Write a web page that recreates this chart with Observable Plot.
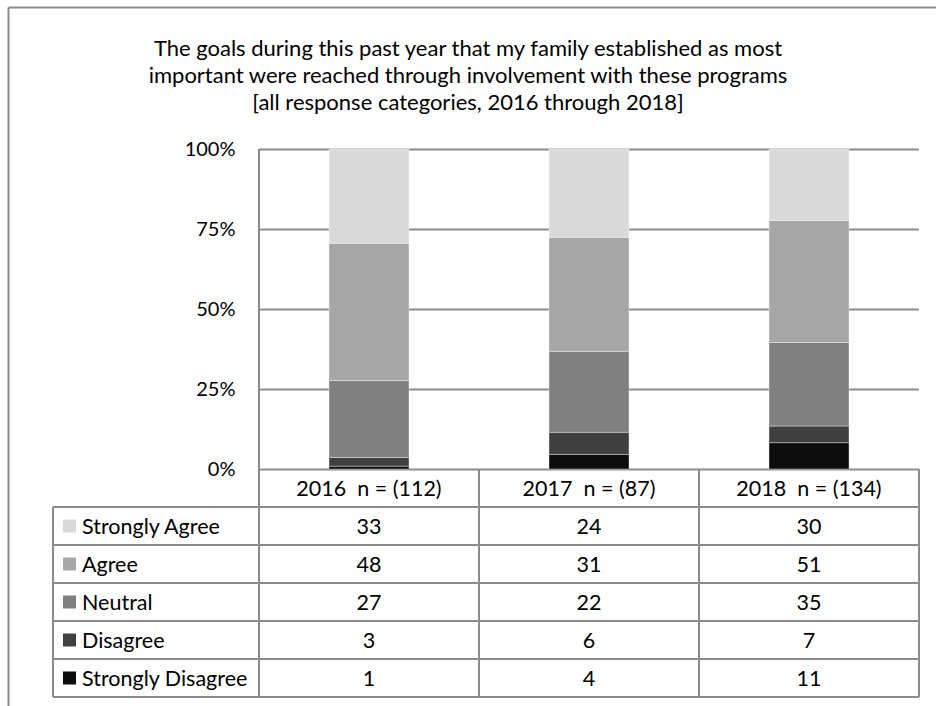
<!DOCTYPE html>
<html><head><meta charset="utf-8">
<script src="https://cdn.jsdelivr.net/npm/d3@7"></script>
<script src="https://cdn.jsdelivr.net/npm/@observablehq/plot@0.6"></script>
<style>
body{margin:0;background:#fff;}
#root{position:relative;width:936px;height:706px;overflow:hidden;background:#fff;font-family:Lato, sans-serif;}
#root svg{position:absolute;left:0;top:0;}
</style></head><body><div id="root"></div>
<script>
const titleLines = [
  "The goals during this past year that my family established as most",
  "important were reached through involvement with these programs",
  "[all response categories, 2016 through 2018]"
];
const years = ["2016", "2017", "2018"];
const columnLabels = ["2016  n = (112)", "2017  n = (87)", "2018  n = (134)"];
const categories = ["Strongly Agree", "Agree", "Neutral", "Disagree", "Strongly Disagree"];
const colors = ["#d9d9d9", "#a6a6a6", "#808080", "#404040", "#0d0d0d"];
const stronglyAgree = [33, 24, 30];
const agree = [48, 31, 51];
const neutral = [27, 22, 35];
const disagree = [3, 6, 7];
const stronglyDisagree = [1, 4, 11];
const yTicks = [0, 0.25, 0.5, 0.75, 1];

const seriesByCat = {
  "Strongly Agree": stronglyAgree,
  "Agree": agree,
  "Neutral": neutral,
  "Disagree": disagree,
  "Strongly Disagree": stronglyDisagree
};
// bottom-to-top stacking order
const stackOrder = categories.slice().reverse();
const rows = [];
years.forEach((yr, i) => {
  stackOrder.forEach(cat => rows.push({year: yr, category: cat, count: seriesByCat[cat][i]}));
});

const FONT = "Lato, sans-serif";
const LINE = "#8c8c8c";
const TITLE_SIZE = 22;
const TABLE_SIZE = 21.5;

const chart = Plot.plot({
  width: 936,
  height: 480,
  marginLeft: 259,
  marginRight: 17,
  marginTop: 149,
  marginBottom: 11,
  style: {background: "transparent", fontFamily: FONT, fontSize: "20px", color: "#000", overflow: "visible"},
  x: {domain: years, paddingInner: 0.636, paddingOuter: 0.318, axis: null},
  y: {domain: [0, 1], axis: null},
  color: {domain: categories, range: colors},
  marks: [
    Plot.ruleY(yTicks, {stroke: LINE, strokeWidth: 2}),
    Plot.barY(rows, Plot.stackY({offset: "normalize", x: "year", y: "count", fill: "category",
      stroke: "#fff", strokeWidth: 0.8, strokeOpacity: 0.45})),
    Plot.axisY({ticks: yTicks, tickSize: 0, tickPadding: 24, label: null,
      tickFormat: d => Math.round(d * 100) + "%", fill: "#000"})
  ]
});

const root = document.getElementById("root");
root.appendChild(chart);

const xs = chart.scale("x");
const ysc = chart.scale("y");
const step = xs.step;
const centers = years.map(y => xs.apply(y) + xs.bandwidth / 2);
const colEdges = [centers[0] - step / 2, ...centers.map(c => c + step / 2)];
const tableLeft = 53;
const yTop = ysc.apply(1);
const y0 = ysc.apply(0);
const rowH = 38;
const headerBottom = y0 + rowH;
const rowTops = categories.map((c, i) => headerBottom + i * rowH);
const tableBottom = headerBottom + categories.length * rowH;

const svg = d3.select(root).append("svg")
  .attr("width", 936).attr("height", 706)
  .style("font-family", FONT);

// outer frame (top + left edges visible)
svg.append("line").attr("x1", 8.5).attr("x2", 936).attr("y1", 7.5).attr("y2", 7.5).attr("stroke", LINE).attr("stroke-width", 2);
svg.append("line").attr("x1", 8.5).attr("x2", 8.5).attr("y1", 7.5).attr("y2", 706).attr("stroke", LINE).attr("stroke-width", 2);

// title
svg.append("g").selectAll("text").data(titleLines).join("text")
  .attr("x", 468).attr("y", (d, i) => 47 + i * 27)
  .attr("text-anchor", "middle").attr("dominant-baseline", "central")
  .attr("font-size", TITLE_SIZE).attr("fill", "#000").text(d => d);

const g = svg.append("g").attr("stroke", LINE).attr("stroke-width", 2);
// axis vertical line down through table
g.append("line").attr("x1", colEdges[0]).attr("x2", colEdges[0]).attr("y1", yTop).attr("y2", tableBottom);
// column dividers (header + body)
colEdges.slice(1).forEach(x => g.append("line").attr("x1", x).attr("x2", x).attr("y1", y0).attr("y2", tableBottom));
// header bottom / body row lines
[headerBottom, ...rowTops.map(t => t + rowH)].forEach(y =>
  g.append("line").attr("x1", tableLeft).attr("x2", colEdges[3]).attr("y1", y).attr("y2", y));
// table left edge
g.append("line").attr("x1", tableLeft).attr("x2", tableLeft).attr("y1", headerBottom).attr("y2", tableBottom);

// header labels
svg.append("g").selectAll("text").data(columnLabels).join("text")
  .attr("x", (d, i) => centers[i]).attr("y", y0 + rowH / 2)
  .attr("text-anchor", "middle").attr("dominant-baseline", "central")
  .attr("font-size", TABLE_SIZE).style("white-space", "pre").attr("fill", "#000").text(d => d);

// body rows
categories.forEach((cat, r) => {
  const cy = rowTops[r] + rowH / 2;
  svg.append("rect").attr("x", 63).attr("y", cy - 6.5).attr("width", 13).attr("height", 13)
    .attr("fill", colors[r]);
  svg.append("text").attr("x", 82).attr("y", cy).attr("dominant-baseline", "central")
    .attr("font-size", TABLE_SIZE).attr("fill", "#000").text(cat);
  seriesByCat[cat].forEach((v, i) => {
    svg.append("text").attr("x", centers[i]).attr("y", cy)
      .attr("text-anchor", "middle").attr("dominant-baseline", "central")
      .attr("font-size", TABLE_SIZE).attr("fill", "#000").text(v);
  });
});
</script>
</body></html>
